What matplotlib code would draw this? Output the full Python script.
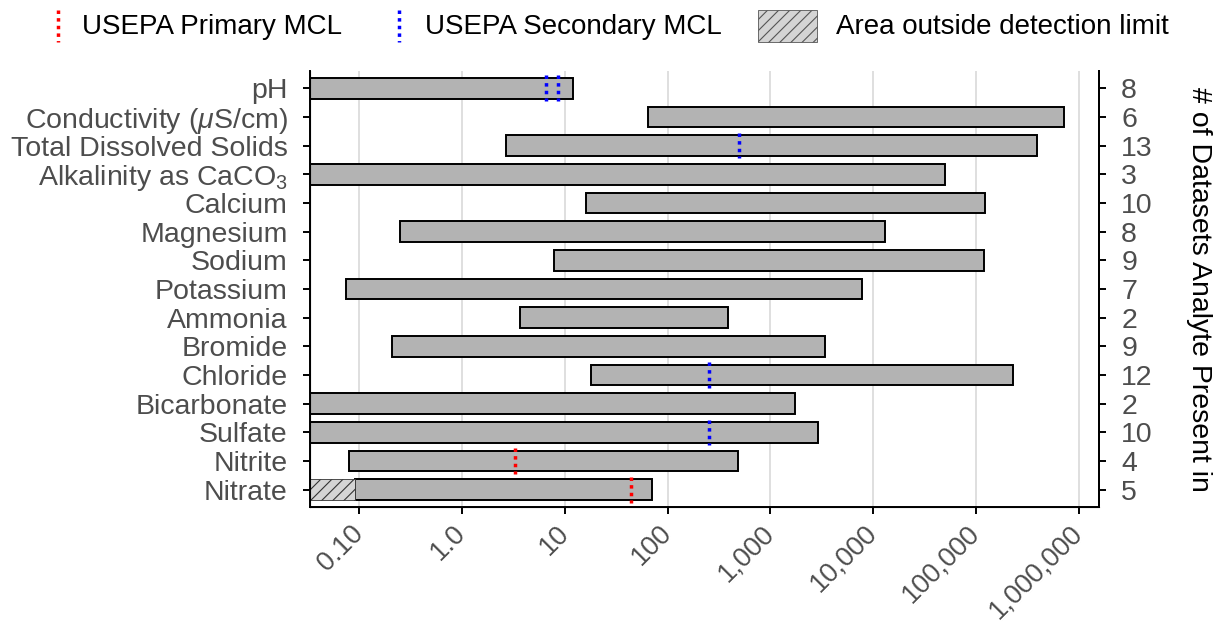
import numpy as np
import matplotlib
matplotlib.use("Agg")
import matplotlib.pyplot as plt
from matplotlib.patches import Rectangle

plt.rcParams['font.family'] = ['Liberation Sans', 'DejaVu Sans']
plt.rcParams['mathtext.fontset'] = 'custom'
plt.rcParams['mathtext.rm'] = 'Liberation Sans'
plt.rcParams['mathtext.it'] = 'Liberation Sans:italic'
plt.rcParams['hatch.linewidth'] = 0.8

# ---- data ----
analytes = ["pH", r"Conductivity ($\mu$S/cm)", "Total Dissolved Solids",
            r"Alkalinity as CaCO$_3$", "Calcium", "Magnesium", "Sodium",
            "Potassium", "Ammonia", "Bromide", "Chloride", "Bicarbonate",
            "Sulfate", "Nitrite", "Nitrate"]
# 0 = extends below the axis (non-detect / zero)
low_vals = [0, 64, 2.7, 0, 16, 0.25, 7.9, 0.074, 3.7, 0.21, 18, 0, 0, 0.08, 0.09]
high_vals = [11.9, 713000, 389000, 50000, 123000, 13000, 120000, 7840, 384,
             3400, 227000, 1720, 2890, 480, 70]
n_datasets = [8, 6, 13, 3, 10, 8, 9, 7, 2, 9, 12, 2, 10, 4, 5]

primary_analytes = ["Nitrite", "Nitrate"]
primary_mcl = [3.3, 44]
secondary_analytes = ["pH", "pH", "Total Dissolved Solids", "Chloride", "Sulfate"]
secondary_mcl = [6.5, 8.5, 500, 250, 250]

# hatched region (outside detection limit)
hatch_analytes = ["Nitrate"]
hatch_low = [0]
hatch_high = [0.09]

x_ticks = [0.1, 1, 10, 100, 1000, 10000, 100000, 1000000]
x_ticklabels = ["0.10", "1.0", "10", "100", "1,000", "10,000", "100,000", "1,000,000"]
x_limits = (0.0332, 1.57e6)

# ---- plot ----
fig = plt.figure(figsize=(12.16, 6.23), dpi=100)
ax = fig.add_axes([310/1216, 1-507/623, (1099-310)/1216, (507-71)/623])

ypos = np.arange(len(analytes))
idx = {a: i for i, a in enumerate(analytes)}
bar_h = 0.72
lows = np.array(low_vals, dtype=float)
highs = np.array(high_vals, dtype=float)

ax.set_xscale('log')
ax.set_xlim(*x_limits)
ax.set_ylim(len(analytes) - 0.4, -0.6)

for xt in x_ticks:
    ax.axvline(xt, color='#d9d9d9', lw=1.2, zorder=0)

ax.barh(ypos, highs - lows, left=lows, height=bar_h, color='#b3b3b3',
        edgecolor='black', linewidth=1.4, zorder=2)

for a, lo, hi in zip(hatch_analytes, hatch_low, hatch_high):
    ax.barh(idx[a], hi - lo, left=lo, height=bar_h, facecolor='#d4d4d4',
            edgecolor='#333333', hatch='///', linewidth=0.6, zorder=2)

dot = (0, (1.0, 1.2))
for a, v in zip(primary_analytes, primary_mcl):
    ax.vlines(v, idx[a] - 0.45, idx[a] + 0.45, colors='#ff0000', linestyles=[dot],
              lw=2.5, zorder=3)
for a, v in zip(secondary_analytes, secondary_mcl):
    ax.vlines(v, idx[a] - 0.45, idx[a] + 0.45, colors='#0000ff', linestyles=[dot],
              lw=2.5, zorder=3)

ax.set_xticks(x_ticks)
ax.set_xticklabels(x_ticklabels, rotation=45, ha='right', va='center',
                   rotation_mode='anchor', fontsize=19.5)
ax.xaxis.set_minor_locator(matplotlib.ticker.NullLocator())
ax.set_yticks(ypos)
ax.set_yticklabels(analytes, fontsize=20.5)

for s in ['left', 'bottom', 'right']:
    ax.spines[s].set_linewidth(1.4)
ax.spines['top'].set_visible(False)
ax.tick_params(axis='y', direction='out', length=5, width=1.4,
               labelcolor='#4d4d4d', pad=11)
ax.tick_params(axis='x', direction='out', length=5, width=1.4,
               labelcolor='#4d4d4d', pad=11)

ax2 = ax.twinx()
ax2.set_ylim(ax.get_ylim())
ax2.set_yticks(ypos)
ax2.set_yticklabels([str(n) for n in n_datasets], fontsize=20.5)
ax2.spines['top'].set_visible(False)
ax2.spines['right'].set_linewidth(1.4)
ax2.tick_params(axis='y', direction='out', length=5, width=1.4,
                labelcolor='#4d4d4d', pad=11)
ax2.set_ylabel("# of Datasets Analyte Present in", rotation=270, fontsize=20.5,
               va='center')
ax2.yaxis.set_label_coords(1.127, 0.5)

# ---- legend ----
lax = fig.add_axes([0, 1 - 62.3/623, 1, 62.3/623])
lax.set_xlim(0, 1216)
lax.set_ylim(62.3, 0)
lax.axis('off')
lax.vlines(58, 10, 42, colors='#ff0000', linestyles=[dot], lw=2.5)
lax.text(82, 27, "USEPA Primary MCL", fontsize=20, va='center', ha='left')
lax.vlines(399, 10, 42, colors='#0000ff', linestyles=[dot], lw=2.5)
lax.text(425, 27, "USEPA Secondary MCL", fontsize=20, va='center', ha='left')
lax.add_patch(Rectangle((758, 10), 59, 32, facecolor='#d4d4d4', edgecolor='#555555',
                        hatch='///', linewidth=0.6))
lax.text(836, 27, "Area outside detection limit", fontsize=20, va='center', ha='left')

fig.savefig("out.png", dpi=100)
